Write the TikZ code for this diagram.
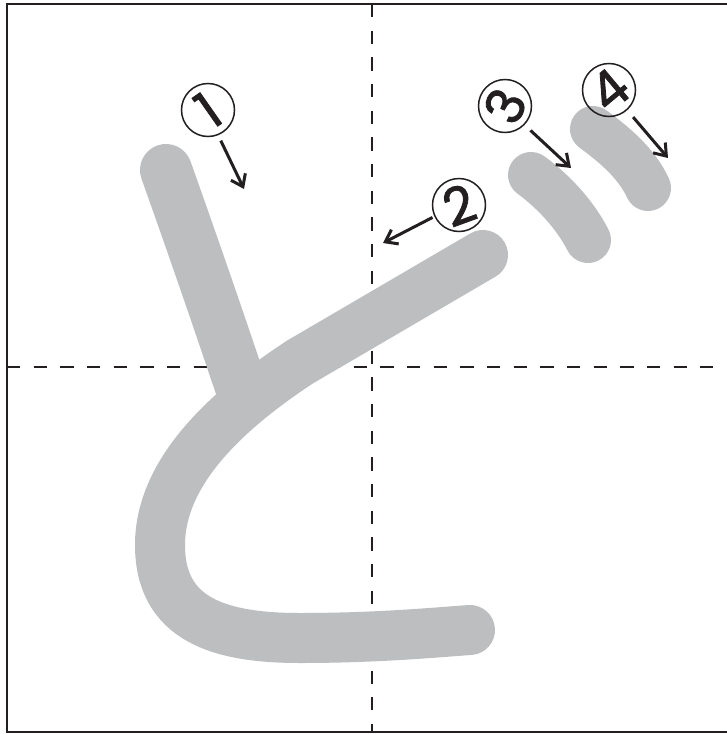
\documentclass[tikz,border=0pt]{standalone}
\usepackage{fontspec}
\newfontfamily\numfont{Poppins}[FakeBold=1.6]
\usetikzlibrary{arrows.meta}
\definecolor{ink}{HTML}{231F20}
\definecolor{brush}{HTML}{BCBEC0}
\begin{document}
\begin{tikzpicture}[x=1pt,y=-1pt,
  frameline/.style={draw=ink,line width=2.7pt},
  guide/.style={draw=ink,line width=2.5pt,dash pattern=on 13.33pt off 13.33pt},
  brushstroke/.style={draw=brush,line width=50pt,line cap=round},
  numcirc/.style={circle,draw=ink,line width=1.5pt,minimum size=53pt,inner sep=0pt},
  numtext/.style={font=\numfont\fontsize{52}{52}\selectfont,text=ink,inner sep=0pt},
  arr/.style={draw=ink,line width=3pt,-{Straight Barb[length=11pt,width=16pt,line width=3pt]}}]
\useasboundingbox (0,0) rectangle (726,734);
\fill[white] (0,0) rectangle (726,734);
% frame
\draw[frameline] (730,4) -- (7,4) -- (7,732) -- (730,732);
% guides
\draw[guide] (372,4) -- (372,732);
\draw[guide] (7,367) -- (726,367);
% brush strokes
\draw[brushstroke,line width=52pt] (166,170) .. controls (182,215) and (212,300) .. (242,390);
\draw[brushstroke] (483,255) -- (300,362) .. controls (230,408) and (160,470) .. (160,545)
   .. controls (160,620) and (220,638) .. (300,638) .. controls (380,638) and (440,632) .. (470,630);
\draw[brushstroke,line width=46pt] (531,175) .. controls (550,189) and (573,211) .. (588,240);
\draw[brushstroke,line width=46pt] (593,129) .. controls (612,143) and (636,162) .. (648,188);
% numbers
\node[numcirc] (c1) at (208,110) {};
\node[numtext,rotate=35] (d1) at (c1.center) {1};
\node[numcirc] (c2) at (459,205) {};
\node[numtext,rotate=20] (d2) at (c2.center) {2};
\node[numcirc] (c3) at (505,106) {};
\node[numtext,rotate=65] (d3) at (c3.center) {3};
\node[numcirc] (c4) at (609,90) {};
\node[numtext,rotate=40] (d4) at (c4.center) {4};
% arrows
\coordinate (t1) at (244,189);
\coordinate (t2) at (383,243);
\coordinate (t3) at (571,168);
\coordinate (t4) at (668,158);
\draw[arr,shorten <=6pt] (c1.-68) -- (t1);
\draw[arr,shorten <=2pt] (c2.-155) -- (t2);
\draw[arr,shorten <=8pt] (c3.-44) -- (t3);
\draw[arr,shorten <=9pt] (c4.-48) -- (t4);
\end{tikzpicture}
\end{document}
